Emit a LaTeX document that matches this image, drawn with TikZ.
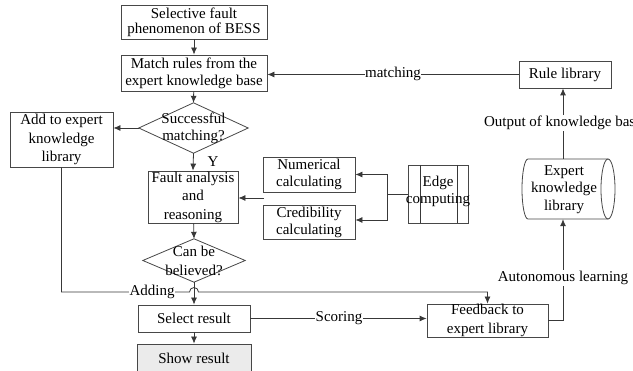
\documentclass[tikz,border=0pt]{standalone}
\usepackage{fontspec}
\setmainfont{Liberation Serif}
\usetikzlibrary{arrows.meta,shadows}
\begin{document}
\begin{tikzpicture}[x=1pt,y=-1pt,
  every node/.style={font=\fontsize{15pt}{18pt}\selectfont, text=black},
  ln/.style={draw=black!78, line width=0.8pt},
  arr/.style={ln, -{Latex[length=7pt,width=6pt]}},
  box/.style={draw=black!72, line width=0.8pt, fill=white, align=center, inner sep=0pt,
    drop shadow={shadow xshift=1.2pt, shadow yshift=-1.2pt, fill=black!30}},
  dshape/.style={draw=black!72, line width=0.8pt, fill=white},
  txt/.style={align=center, inner sep=0pt},
  lab/.style={fill=white, inner xsep=0.5pt, inner ysep=1pt},
  sp15/.style={font=\fontsize{15pt}{15pt}\selectfont},
  sp17/.style={font=\fontsize{15pt}{17pt}\selectfont},
  sp18/.style={font=\fontsize{15pt}{18.5pt}\selectfont},
]
\useasboundingbox (0,0) rectangle (633,371);
\clip (0,0) rectangle (633,371);

% boxes
\node[box, sp15, minimum width=146pt, minimum height=34pt] (sel) at (194,22) {Selective fault\\phenomenon of BESS};
\node[box, sp17, minimum width=146pt, minimum height=36pt] (match) at (194,73) {Match rules from the\\expert knowledge base};

\node[minimum width=109pt, minimum height=50pt, inner sep=0pt] (d1) at (193.5,128) {};
\draw[dshape] (d1.west) -- (d1.north) -- (d1.east) -- (d1.south) -- cycle;
\node[txt, sp17] at (193.5,128.5) {Successful\\matching?};

\node[box, sp18, minimum width=103pt, minimum height=55pt] (add) at (61.5,139.5) {Add to expert\\knowledge\\library};
\node[box, sp18, minimum width=90pt, minimum height=52pt] (fault) at (193,197) {Fault analysis\\and\\reasoning};
\node[box, sp17, minimum width=92pt, minimum height=35pt] (num) at (309,174.5) {Numerical\\calculating};
\node[box, sp17, minimum width=92pt, minimum height=34pt] (cred) at (309,222) {Credibility\\calculating};

\node[box, minimum width=60pt, minimum height=58pt] (edge) at (438,194) {};
\draw[ln] (420,165) -- (420,223);
\draw[ln] (457,165) -- (457,223);
\node[txt, sp17] at (438,191) {Edge\\computing};

\node[minimum width=102pt, minimum height=43pt, inner sep=0pt] (d2) at (194,260.5) {};
\draw[dshape] (d2.west) -- (d2.north) -- (d2.east) -- (d2.south) -- cycle;
\node[txt, font=\fontsize{15pt}{19pt}\selectfont] at (194,261) {Can be\\believed?};

\node[box, minimum width=112pt, minimum height=27pt] (selr) at (194,318.5) {Select result};
\node[box, fill=black!8, minimum width=114pt, minimum height=30pt] (show) at (194,359) {};
\node[txt] at (194,358) {Show result};
\node[box, sp18, minimum width=121pt, minimum height=33pt] (fb) at (487.5,320.5) {Feedback to\\expert library};
\node[box, minimum width=92pt, minimum height=27pt] (rule) at (565,74.5) {Rule library};

% expert knowledge library (horizontal cylinder)
\draw[dshape] (528,159) -- (608,159) -- (608,219) -- (528,219)
  arc[start angle=270, end angle=90, x radius=6pt, y radius=30pt];
\draw[dshape] (608,189) ellipse [x radius=7pt, y radius=30pt];
\node[minimum width=86pt, minimum height=60pt, inner sep=0pt] (ekl) at (563,189) {};
\node[txt, font=\fontsize{15pt}{17.5pt}\selectfont] at (564,189.5) {Expert\\knowledge\\library};

% connectors
\draw[arr] (sel) -- (match);
\draw[arr] (match) -- (d1.north);
\draw[arr] (d1.west) -- (d1.west -| add.east);
\draw[arr] (d1.south) -- (fault.north);
\node at (213,162) {Y};

\coordinate (src) at (264,198);
\draw[arr] (src) -- (src -| fault.east);
\coordinate (ej) at (387,194);
\draw[ln] (edge.west) -- (ej);
\draw[arr] (ej) |- (num.east);
\draw[arr] (ej) |- ([yshift=2pt]cred.east);

\draw[arr] (fault) -- (d2.north);
\draw[arr] (d2.south) -- (selr.north);

\draw[arr] (add.south) |- (189.5,292) arc[start angle=180, end angle=0, radius=4.5pt] -| (fb.north);
\node[lab] at (152,292) {Adding};

\draw[arr] (selr.east) -- (selr.east -| fb.west);
\node[lab] at (339,318.5) {Scoring};
\draw[arr] (selr) -- (show);

\draw[arr] (fb.east) -| (ekl.south);
\node[lab] at (563,278) {Autonomous learning};
\draw[arr] (ekl.north) -- (ekl.north |- rule.south);
\node[lab] at (563,123) {Output of knowledge base};
\draw[arr] (rule.west) -- (rule.west -| match.east);
\node[lab] at (393,74) {matching};
\end{tikzpicture}
\end{document}
